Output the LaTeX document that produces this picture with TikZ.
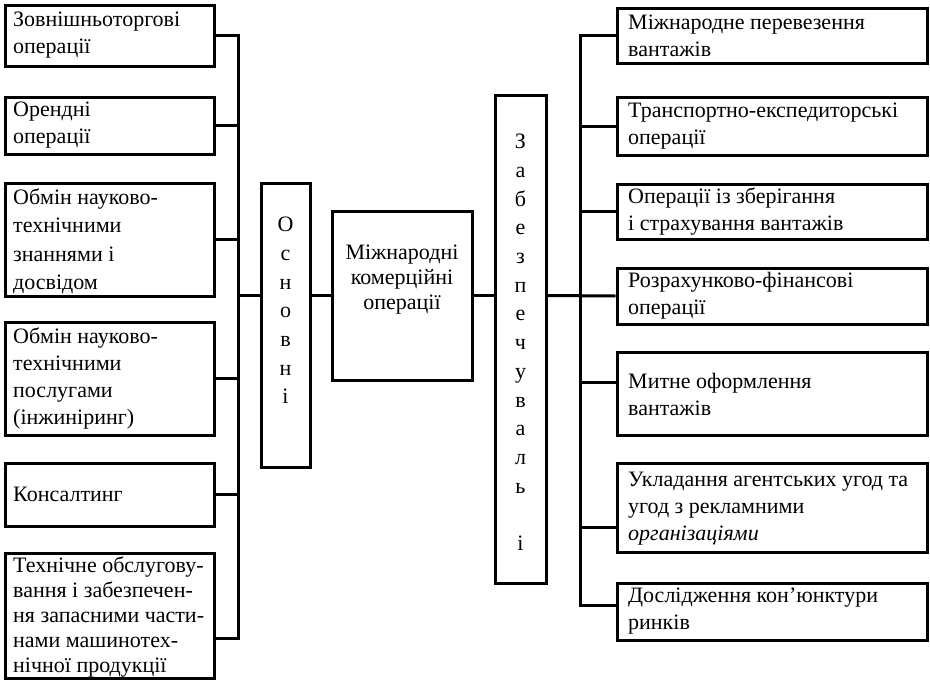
\documentclass[tikz,border=0pt]{standalone}
\usepackage{fontspec}
\setmainfont{Liberation Serif}
\begin{document}
\begin{tikzpicture}[x=1pt,y=-1pt,
  box/.style={draw, line width=3pt, rectangle, inner sep=0pt},
  lbox/.style={box, minimum width=209pt},
  rbox/.style={box, minimum width=310pt},
  txt/.style={font=\fontsize{22}{27}\selectfont, align=left, inner sep=0pt, anchor=west},
  vtxt/.style={font=\fontsize{22}{28.7}\selectfont, align=center, inner sep=0pt, anchor=north},
  link/.style={line width=3pt}]
\useasboundingbox (0,0) rectangle (930,681);

% left column: main operations
\node[lbox, minimum height=61pt]  (L1) at (109.5,35.5)  {};
\node[lbox, minimum height=57pt]  (L2) at (109.5,125.5) {};
\node[lbox, minimum height=113pt] (L3) at (109.5,239.5) {};
\node[lbox, minimum height=113pt] (L4) at (109.5,378.5) {};
\node[lbox, minimum height=63pt]  (L5) at (109.5,494.5) {};
\node[lbox, minimum height=125pt] (L6) at (109.5,615.5) {};
\node[txt] (L1t) at (13,35.5)  {Зовнішньоторгові\\операції};
\node[txt] (L2t) at (13,125.5) {Орендні\\операції};
\node[txt, font=\fontsize{22}{28.5}\selectfont] (L3t) at (13,241) {Обмін науково-\\технічними\\знаннями і\\досвідом};
\node[txt] (L4t) at (13,378.5) {Обмін науково-\\технічними\\послугами\\(інжиніринг)};
\node[txt] (L5t) at (13,494.5) {Консалтинг};
\node[txt, font=\fontsize{22}{25}\selectfont] (L6t) at (13,617) {Технічне обслугову-\\вання і забезпечен-\\ня запасними части-\\нами машинотех-\\нічної продукції};

% right column: supporting operations
\node[rbox, minimum height=55pt] (R1) at (772,35.5)  {};
\node[rbox, minimum height=58pt] (R2) at (772,126)   {};
\node[rbox, minimum height=55pt] (R3) at (772,211.5) {};
\node[rbox, minimum height=56pt] (R4) at (772,296)   {};
\node[rbox, minimum height=83pt] (R5) at (772,393.5) {};
\node[rbox, minimum height=89pt] (R6) at (772,507.5) {};
\node[rbox, minimum height=57pt] (R7) at (772,611.5) {};
\node[txt] (R1t) at (628,35.5)  {Міжнародне перевезення\\вантажів};
\node[txt] (R2t) at (628,126)   {Транспортно-експедиторські\\операції};
\node[txt] (R3t) at (628,211.5) {Операції із зберігання\\і страхування вантажів};
\node[txt] (R4t) at (628,296)   {Розрахунково-фінансові\\операції};
\node[txt] (R5t) at (628,394.5) {Митне оформлення\\вантажів};
\node[txt] (R6t) at (628,508.5) {Укладання агентських угод та\\угод з рекламними\\\textit{організаціями}};
\node[txt] (R7t) at (628,611.5) {Дослідження кон’юнктури\\ринків};

% centre: the two vertical captions and the main box
\node[box, minimum width=49pt, minimum height=284pt]  (osn) at (285.5,325)  {};
\node[box, minimum width=140pt, minimum height=169pt] (mid) at (402,295.5)  {};
\node[box, minimum width=51pt, minimum height=488pt]  (zab) at (520.5,339)  {};
\node[vtxt] (osnt) at (285.5,217) {О\\с\\н\\о\\в\\н\\і};
\node[vtxt] (zabt) at (520.5,134) {З\\а\\б\\е\\з\\п\\е\\ч\\у\\в\\а\\л\\ь\\\strut\\і};
\node[font=\fontsize{22}{25}\selectfont, align=center, inner sep=0pt] (midt) at (402,280)
  {Міжнародні\\комерційні\\операції};

% left bus
\coordinate (lb) at (238,0);
\coordinate (L6c) at ([yshift=-22.5pt]L6.east);
\draw[link] (L1.east) -- (L1.east -| lb) -- (lb |- L6c) -- (L6c);
\draw[link] (L2.east) -- (L2.east -| lb);
\draw[link] (L3.east) -- (L3.east -| lb);
\draw[link] (L4.east) -- (L4.east -| lb);
\draw[link] (L5.east) -- (L5.east -| lb);

% central chain
\draw[link] (lb |- mid.west) -- (osn.west |- mid.west);
\draw[link] (osn.east |- mid.west) -- (mid.west);
\draw[link] (mid.east) -- (zab.west |- mid.east);
\draw[link] (zab.east |- mid.east) -- (R4.west);

% right bus
\coordinate (rb) at (580,0);
\coordinate (R5c) at ([yshift=11.5pt]R5.west);
\coordinate (R6c) at ([yshift=-19.5pt]R6.west);
\coordinate (R7c) at ([yshift=6.5pt]R7.west);
\draw[link] (R1.west) -- (R1.west -| rb) -- (rb |- R7c) -- (R7c);
\draw[link] (R2.west) -- (R2.west -| rb);
\draw[link] (R3.west) -- (R3.west -| rb);
\draw[link] (R5c) -- (R5c -| rb);
\draw[link] (R6c) -- (R6c -| rb);
\end{tikzpicture}
\end{document}
